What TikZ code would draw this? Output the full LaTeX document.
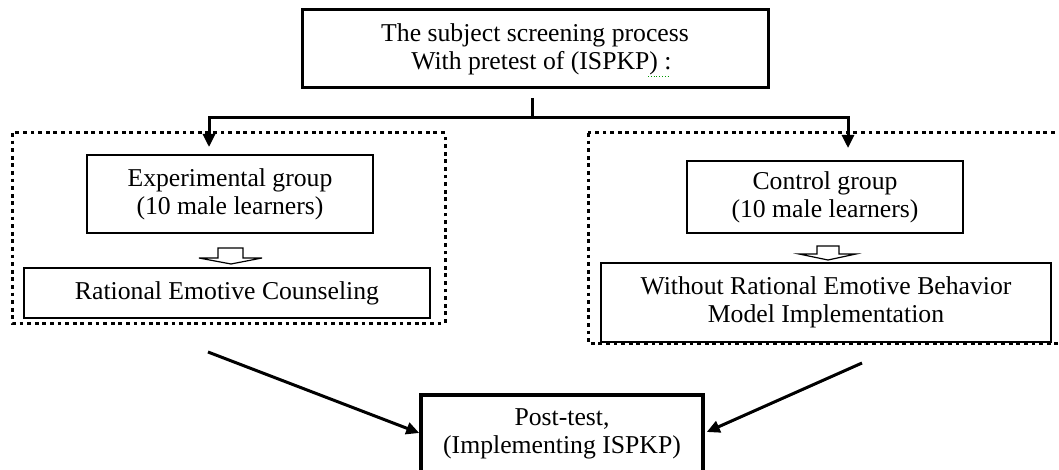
\documentclass[tikz,border=0pt]{standalone}
\usepackage{fontspec}
\setmainfont{Liberation Serif}
\usetikzlibrary{arrows.meta}
\begin{document}
\begin{tikzpicture}[x=1pt,y=-1pt,
  txt/.style={font=\fontsize{25.7}{28}\selectfont, align=center, inner sep=0pt},
  thickbox/.style={txt, draw, line width=3pt},
  thinbox/.style={txt, draw, line width=1.6pt},
  dotbox/.style={draw, line width=3pt, dash pattern=on 3.8pt off 3.8pt},
  conn/.style={line width=3pt},
  arr/.style={line width=3pt, -{Triangle[length=13pt,width=12pt]}},
  hollow/.style={draw, line width=1.2pt, fill=white, line join=miter}
]
\useasboundingbox (0,0) rectangle (1059,470);
\clip (0,0) rectangle (1059,470);
\fill[white] (0,0) rectangle (1059,470);

% dotted group frames
\draw[dotbox] (12,133) rectangle (445,323);
\node[inner sep=0pt, minimum width=433pt, minimum height=190pt] (leftgroup) at (228.5,228) {};
\draw[dotbox] (588,133) rectangle (1075,343);
\node[inner sep=0pt, minimum width=487pt, minimum height=210pt] (rightgroup) at (831.5,238) {};

% boxes
\node[thickbox, minimum width=466pt, minimum height=78pt] (top) at (535,49)
  {The subject screening process\\\ \ With pretest of (ISPKP)\ :};
\draw[green!60!black, line width=0.8pt, dotted] (648,76) -- (668,76);

\node[thinbox, minimum width=286pt, minimum height=78pt] (exp) at (230,194)
  {Experimental group\\(10 male learners)};
\node[thinbox, minimum width=406pt, minimum height=50pt] (rec) at (227,293)
  {Rational Emotive Counseling};
\node[thinbox, minimum width=276pt, minimum height=72pt] (ctrl) at (825,197)
  {Control group\\(10 male learners)};
\node[thinbox, minimum width=450pt, minimum height=79pt] (without) at (826,302.5)
  {Without Rational Emotive Behavior\\Model Implementation};
\node[thickbox, line width=3.5pt, minimum width=282pt, minimum height=78pt] (post) at (562,434)
  {Post-test,\\(Implementing ISPKP)};

% tree connectors
\coordinate (stemtop) at (532,98);
\coordinate (split) at (532,118);
\coordinate (la) at (209,147);
\coordinate (ra) at (848,148);
\draw[conn] (stemtop) -- (split);
\draw[arr] (split) -| (la);
\draw[arr] (split) -| (ra);

% hollow arrows
\draw[hollow] (218,248) -- (243,248) -- (243,258) -- (262,258) -- (231,264) -- (199,258) -- (218,258) -- cycle;
\draw[hollow] (817,246) -- (839,246) -- (839,254) -- (856,254) -- (828,260) -- (799,254) -- (817,254) -- cycle;

% arrows to post-test
\coordinate (lstart) at (208,352);
\coordinate (rstart) at (862,363);
\draw[arr] (lstart) -- (post.west |- 0,433);
\draw[arr] (rstart) -- ([xshift=2pt]post.east |- 0,432);
\end{tikzpicture}
\end{document}
